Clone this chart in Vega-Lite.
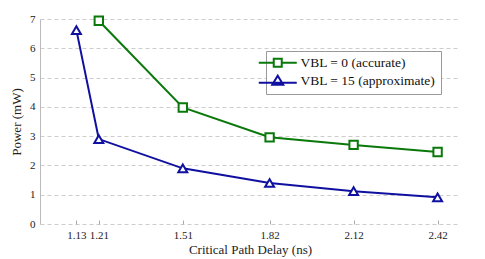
{
  "$schema": "https://vega.github.io/schema/vega-lite/v6.json",
  "width": 420,
  "height": 205,
  "autosize": {"type": "none"},
  "padding": {"left": 40, "top": 19, "right": 25, "bottom": 35},
  "background": "white",
  "config": {
    "font": "Times New Roman",
    "view": {"stroke": null},
    "axis": {"labelFont": "Times New Roman", "titleFont": "Times New Roman", "labelColor": "#222", "titleColor": "#222", "titleFontWeight": "normal"}
  },
  "data": {
    "values": [
      {"series": "VBL = 0 (accurate)", "x": 1.21, "y": 6.94},
      {"series": "VBL = 0 (accurate)", "x": 1.51, "y": 3.98},
      {"series": "VBL = 0 (accurate)", "x": 1.82, "y": 2.96},
      {"series": "VBL = 0 (accurate)", "x": 2.12, "y": 2.70},
      {"series": "VBL = 0 (accurate)", "x": 2.42, "y": 2.46},
      {"series": "VBL = 15 (approximate)", "x": 1.13, "y": 6.62},
      {"series": "VBL = 15 (approximate)", "x": 1.21, "y": 2.90},
      {"series": "VBL = 15 (approximate)", "x": 1.51, "y": 1.90},
      {"series": "VBL = 15 (approximate)", "x": 1.82, "y": 1.40},
      {"series": "VBL = 15 (approximate)", "x": 2.12, "y": 1.12},
      {"series": "VBL = 15 (approximate)", "x": 2.42, "y": 0.91}
    ]
  },
  "encoding": {
    "x": {
      "field": "x", "type": "quantitative",
      "scale": {"domain": [1.0, 2.5], "nice": false, "zero": false},
      "axis": {
        "title": "Critical Path Delay (ns)", "titleFontSize": 13, "titlePadding": 3,
        "values": [1.13, 1.21, 1.51, 1.82, 2.12, 2.42], "format": ".2f",
        "labelFontSize": 11, "labelPadding": 5, "domain": false, "grid": false,
        "offset": -4, "ticks": true, "tickSize": 4, "tickColor": "#aaa", "tickWidth": 1, "labelFlush": false
      }
    },
    "y": {
      "field": "y", "type": "quantitative",
      "scale": {"domain": [0, 7], "nice": false},
      "axis": {
        "title": "Power (mW)", "titleFontSize": 13, "titlePadding": 6,
        "values": [0, 1, 2, 3, 4, 5, 6, 7], "labelFontSize": 11, "labelPadding": 5,
        "domain": true, "domainColor": "#bbb", "ticks": false,
        "grid": true, "gridColor": "#ccc", "gridDash": [4, 3]
      }
    },
    "color": {
      "field": "series", "type": "nominal",
      "scale": {"domain": ["VBL = 0 (accurate)", "VBL = 15 (approximate)"], "range": ["#0a780a", "#1010a0"]},
      "legend": {
        "title": null, "orient": "none", "legendX": 226, "legendY": 32,
        "labelFont": "Times New Roman", "labelFontSize": 13.5, "labelColor": "#111",
        "strokeColor": "#999", "fillColor": "white", "padding": 5,
        "symbolSize": 100, "labelOffset": 16, "rowPadding": 0,
        "encode": {
          "symbols": {
            "update": {
              "shape": {"signal": "datum.value === 'VBL = 0 (accurate)' ? 'M-3.8,0H-0.8M0.8,0H3.8M-0.8,-0.8H0.8V0.8H-0.8Z' : 'M-3.8,0.4H3.8M0,-1L1.1,0.8H-1.1Z'"},
              "fill": {"value": "transparent"},
              "stroke": {"signal": "scale('color', datum.value)"},
              "strokeWidth": {"value": 2},
              "opacity": {"value": 1}
            }
          }
        }
      }
    }
  },
  "layer": [
    {"mark": {"type": "line", "strokeWidth": 2}},
    {
      "transform": [{"filter": "datum.series === 'VBL = 0 (accurate)'"}],
      "mark": {"type": "point", "shape": "square", "filled": false, "fill": "white", "strokeWidth": 2, "opacity": 1, "size": 70}
    },
    {
      "transform": [{"filter": "datum.series === 'VBL = 15 (approximate)'"}],
      "mark": {"type": "point", "shape": "triangle-up", "filled": false, "fill": "white", "strokeWidth": 2, "opacity": 1, "size": 80}
    }
  ]
}
